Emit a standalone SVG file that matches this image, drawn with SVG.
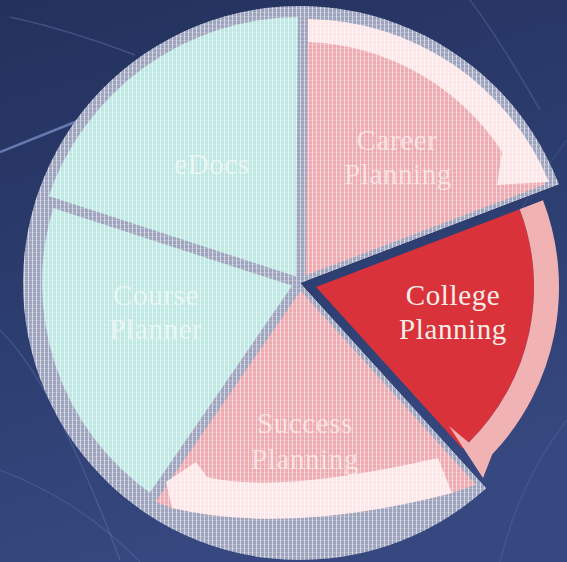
<svg xmlns="http://www.w3.org/2000/svg" width="567" height="562" viewBox="0 0 567 562">
  <defs>
    <linearGradient id="bg" x1="0" y1="0" x2="0.3" y2="1">
      <stop offset="0" stop-color="#24315c"/>
      <stop offset="0.55" stop-color="#2c3d70"/>
      <stop offset="1" stop-color="#36487f"/>
    </linearGradient>
    <pattern id="grid" width="4" height="4" patternUnits="userSpaceOnUse">
      <rect x="0" y="0" width="1" height="4" fill="#ffffff" opacity="0.55"/>
      <rect x="0" y="0" width="4" height="1" fill="#ffffff" opacity="0.2"/>
    </pattern>
    <clipPath id="pieClip">
      <path d="M300,283 L486.1,488.2 A277,277 0 1 1 558.8,184.2 Z"/>
    </clipPath>
    <style>
      .lbl { font-family: "Liberation Serif", "Times New Roman", serif; font-size: 29px; letter-spacing: 0.6px; text-anchor: middle; }
      .faint { fill: #ffffff; fill-opacity: 0.58; }
      .pink { fill: #eeaab0; }
      .cyan { fill: #bfe7e3; }
      .band { fill: #fde6e8; }
      .div { stroke: #9ea4be; stroke-width: 10; stroke-linecap: butt; fill: none; }
      .streak { fill: none; stroke: #7f95d0; }
    </style>
  </defs>

  <!-- background -->
  <rect width="567" height="562" fill="url(#bg)"/>
  <g id="streaks">
    <path class="streak" d="M0,152 Q40,136 80,120" stroke-width="2.5" opacity="0.7"/>
    <path class="streak" d="M10,17 Q70,30 135,55" stroke-width="1.5" opacity="0.3"/>
    <path class="streak" d="M0,330 Q30,360 60,420 T120,560" stroke-width="1.5" opacity="0.25"/>
    <path class="streak" d="M470,0 Q500,40 540,110" stroke-width="1.5" opacity="0.25"/>
    <path class="streak" d="M567,140 Q520,200 500,260" stroke-width="1.2" opacity="0.2"/>
    <path class="streak" d="M567,420 Q520,480 500,562" stroke-width="1.2" opacity="0.2"/>
    <path class="streak" d="M0,470 Q80,500 140,562" stroke-width="1.2" opacity="0.25"/>
  </g>

  <!-- faded pie (screened) -->
  <g clip-path="url(#pieClip)">
    <rect x="0" y="0" width="567" height="562" fill="#9ea4be"/>

    <g id="node-edocs">
      <path class="cyan" d="M300,283 L47,200.8 A266,266 0 0 1 300,17 Z"/>
    </g>
    <g id="node-course-planner">
      <path class="cyan" d="M300,283 L153.9,495.6 A258,258 0 0 1 54.6,203.3 Z"/>
    </g>
    <g id="node-career-planning">
      <path class="pink" d="M300,283 L300,19 A264,264 0 0 1 546.6,188.8 Z"/>
    </g>
    <g id="node-success-planning">
      <path class="pink" d="M300,283 L481,483 L452,493 Q288,535.5 172,508 L150,500 Z"/>
    </g>

    <g id="dividers">
      <line class="div" x1="301" y1="283" x2="303" y2="0"/>
      <line class="div" x1="300" y1="283" x2="14.7" y2="190.3"/>
      <line class="div" x1="300" y1="283" x2="130.1" y2="530.2"/>
      <line class="div" x1="300" y1="283" x2="581" y2="176" stroke-width="20"/>
      <line class="div" x1="300" y1="283" x2="502" y2="506" stroke-width="22"/>
    </g>

    <g id="connectors">
      <path class="band" d="M308,19.1 A264,264 0 0 1 549,182 L497,185 L502.1,151.8 A241,241 0 0 0 308,42.1 Z"/>
      <path class="band" d="M438,458 L452,493 Q288,535.5 172,508 L166,482 L196,462 L207,477 Q277.5,494.5 438,458 Z"/>
    </g>

    <rect x="0" y="0" width="567" height="562" fill="url(#grid)"/>

    <text class="lbl faint" x="212" y="174">eDocs</text>
    <text class="lbl faint" x="156" y="305">Course</text>
    <text class="lbl faint" x="156" y="339">Planner</text>
    <text class="lbl faint" x="397" y="150">Career</text>
    <text class="lbl faint" x="398" y="184">Planning</text>
    <text class="lbl faint" x="305" y="433">Success</text>
    <text class="lbl faint" x="305" y="469">Planning</text>
  </g>

  <!-- highlighted, exploded wedge -->
  <g id="node-college-planning">
    <path fill="#d9323a" d="M316,287 L519.7,209.2 A218,218 0 0 1 462.4,448.5 Z"/>
    <path fill="#f1b2b4" d="M519.7,209.2 L543,200.3 A243,243 0 0 1 492.3,454.3 L483,478 L449,426 L468.8,442.5 A218,218 0 0 0 519.7,209.2 Z"/>
    <text class="lbl" x="453" y="305" fill="#f7ede8">College</text>
    <text class="lbl" x="453" y="339" fill="#f7ede8">Planning</text>
  </g>
</svg>
